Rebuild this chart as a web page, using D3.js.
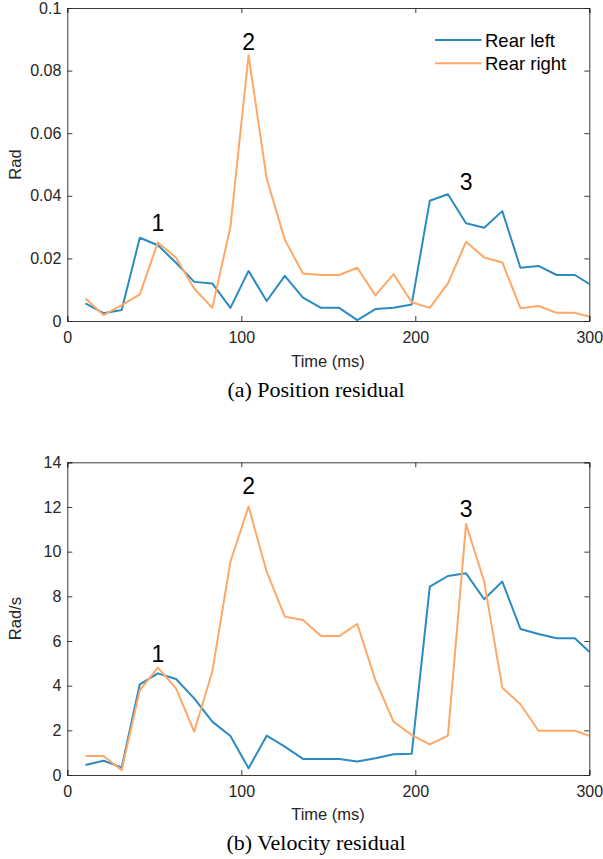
<!DOCTYPE html>
<html><head><meta charset="utf-8">
<script src="https://cdn.jsdelivr.net/npm/d3@7"></script>
<style>body{margin:0;background:#fff}svg{display:block}</style>
</head><body>
<svg id="c" width="603" height="859"></svg>
<script>
const times = [10.42,20.83,31.25,41.67,52.08,62.5,72.92,83.33,93.75,104.17,114.58,125,135.42,145.83,156.25,166.67,177.08,187.5,197.92,208.33,218.75,229.17,239.58,250,260.42,270.83,281.25,291.67,302.08];
const posLeft  = [0.0056,0.0025,0.0035,0.0266,0.0242,0.0186,0.0125,0.012,0.0042,0.016,0.0064,0.0144,0.0075,0.0042,0.0042,0.0003,0.0038,0.0042,0.0053,0.0384,0.0405,0.0312,0.0298,0.0351,0.017,0.0176,0.0147,0.0147,0.0111];
const posRight = [0.0072,0.0019,0.0051,0.0085,0.0251,0.0202,0.0104,0.0042,0.0301,0.0849,0.0455,0.026,0.0152,0.0147,0.0147,0.017,0.0082,0.015,0.006,0.0042,0.012,0.0253,0.0203,0.0187,0.0041,0.0048,0.0026,0.0026,0.0011];
const velLeft  = [0.45,0.64,0.34,4.06,4.55,4.3,3.43,2.39,1.75,0.3,1.76,1.27,0.72,0.72,0.72,0.6,0.75,0.93,0.95,8.43,8.91,9.03,7.87,8.66,6.54,6.31,6.12,6.12,5.37];
const velRight = [0.85,0.85,0.22,3.8,4.81,3.88,1.94,4.63,9.55,12.02,9.1,7.09,6.94,6.22,6.22,6.76,4.25,2.39,1.79,1.37,1.76,11.24,8.66,3.91,3.17,1.98,1.98,1.98,1.7];
const xTicks = [0,100,200,300];
const posTicks = [0,0.02,0.04,0.06,0.08,0.1];
const velTicks = [0,2,4,6,8,10,12,14];
const seriesNames = ["Rear left","Rear right"];
const colors = ["#2a8bc1","#fda866"];
const posPeaks = [{label:"1",i:4},{label:"2",i:9},{label:"3",i:21}];
const velPeaks = [{label:"1",i:4},{label:"2",i:9},{label:"3",i:21}];

const svg = d3.select("#c");
const axisColor = "#262626";
const font = "Liberation Sans, Arial, sans-serif";

function panel(cfg){
  const g = svg.append("g");
  const x = d3.scaleLinear().domain([0,300]).range([67.3,589.3]);
  const y = d3.scaleLinear().domain(cfg.ydom).range([cfg.bottom,cfg.top]);
  const id = "clip"+cfg.id;
  svg.append("clipPath").attr("id",id).append("rect")
    .attr("x",67.3).attr("y",cfg.top).attr("width",522).attr("height",cfg.bottom-cfg.top);
  const line = d3.line().x((d,i)=>x(times[i])).y(d=>y(d));
  cfg.series.forEach((s,k)=>{
    g.append("path").attr("d",line(s)).attr("fill","none")
      .attr("stroke",colors[k]).attr("stroke-width",2).attr("stroke-linejoin","round")
      .attr("clip-path",`url(#${id})`);
  });
  const ax = g.append("g").attr("transform",`translate(0,${cfg.bottom})`)
    .call(d3.axisBottom(x).tickValues(xTicks).tickSize(-5).tickPadding(11).tickFormat(d3.format("d")));
  const axT = g.append("g").attr("transform",`translate(0,${cfg.top})`)
    .call(d3.axisTop(x).tickValues(xTicks).tickSize(-5).tickFormat(""));
  const ay = g.append("g").attr("transform",`translate(67.3,0)`)
    .call(d3.axisLeft(y).tickValues(cfg.ticks).tickSize(-5).tickPadding(6).tickFormat(cfg.fmt));
  const ayR = g.append("g").attr("transform",`translate(589.3,0)`)
    .call(d3.axisRight(y).tickValues(cfg.ticks).tickSize(-5).tickFormat(""));
  [ax,axT,ay,ayR].forEach(a=>{
    a.selectAll("path,line").attr("stroke",axisColor).attr("stroke-width",0.9);
    a.selectAll("text").attr("fill",axisColor).attr("font-size",16).attr("font-family",font);
  });
  g.append("text").attr("x",328).attr("y",cfg.xlabY).attr("text-anchor","middle")
    .attr("font-size",16.5).attr("font-family",font).attr("fill",axisColor).text("Time (ms)");
  g.append("text").attr("transform",`translate(21,${(cfg.top+cfg.bottom)/2}) rotate(-90)`)
    .attr("text-anchor","middle").attr("font-size",16.5).attr("font-family",font).attr("fill",axisColor).text(cfg.ylab);
  g.append("text").attr("x",316).attr("y",cfg.capY).attr("text-anchor","middle")
    .attr("font-size",22).attr("font-family","Liberation Serif, Times New Roman, serif").attr("fill","#000").text(cfg.caption);
  cfg.peaks.forEach((p,j)=>{
    g.append("text").attr("x",x(times[p.i])).attr("y",cfg.peakY[j]).attr("text-anchor","middle")
      .attr("font-size",23).attr("font-family",font).attr("fill","#000").text(p.label);
  });
  return {g,x,y};
}

panel({id:1,top:8,bottom:321,ydom:[0,0.1],ticks:posTicks,fmt:d=>d===0?"0":(d===0.1?"0.1":d3.format(".2f")(d)),
  series:[posLeft,posRight],xlabY:367,ylab:"Rad",capY:397,caption:"(a) Position residual",peaks:posPeaks,peakY:[231,50,190]});
panel({id:2,top:462.3,bottom:775,ydom:[0,14],ticks:velTicks,fmt:d3.format("d"),
  series:[velLeft,velRight],xlabY:820,ylab:"Rad/s",capY:850,caption:"(b) Velocity residual",peaks:velPeaks,peakY:[662,494,517]});

const lg = svg.append("g");
seriesNames.forEach((n,k)=>{
  const yy = 40 + k*23.3;
  lg.append("line").attr("x1",435).attr("x2",481.5).attr("y1",yy).attr("y2",yy)
    .attr("stroke",colors[k]).attr("stroke-width",2);
  lg.append("text").attr("x",485).attr("y",yy+6.5).attr("font-size",18.5)
    .attr("font-family",font).attr("fill","#000").text(n);
});
</script>
</body></html>
